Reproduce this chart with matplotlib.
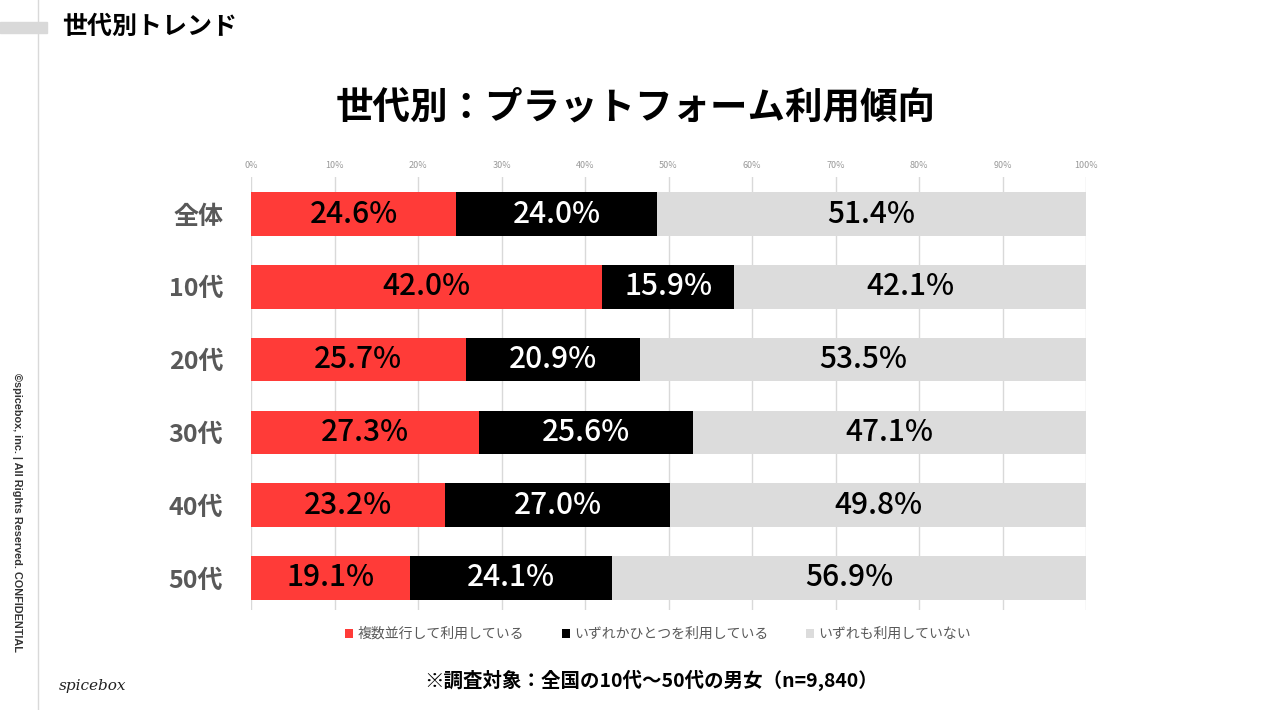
import matplotlib.pyplot as plt
import numpy as np

plt.rcParams['font.family'] = ['Noto Sans CJK JP', 'DejaVu Sans']

# データ
categories = ["全体", "10代", "20代", "30代", "40代", "50代"]
multi = [24.6, 42.0, 25.7, 27.3, 23.2, 19.1]
single = [24.0, 15.9, 20.9, 25.6, 27.0, 24.1]
none = [51.4, 42.1, 53.5, 47.1, 49.8, 56.9]
series_names = ["複数並行して利用している", "いずれかひとつを利用している", "いずれも利用していない"]
ticks = [0, 10, 20, 30, 40, 50, 60, 70, 80, 90, 100]

colors = ["#FF3B38", "#000000", "#DCDCDC"]
text_colors = ["black", "white", "black"]

fig = plt.figure(figsize=(12.66, 7.10), dpi=100)
ax = fig.add_axes([251 / 1266, 1 - 610 / 710, 835 / 1266, 433 / 710])

y = np.arange(len(categories))
left = np.zeros(len(categories))
for vals, col, tcol, name in zip([multi, single, none], colors, text_colors, series_names):
    vals = np.array(vals)
    ax.barh(y, vals, left=left, height=0.6, color=col, label=name, zorder=2)
    for yi, l, v in zip(y, left, vals):
        ax.text(l + v / 2, yi, f"{v:.1f}%", ha="center", va="center",
                fontsize=21.5, fontweight="medium", color=tcol, zorder=3)
    left += vals

ax.set_xlim(0, 100)
ax.set_ylim(5.44, -0.51)
ax.set_xticks(ticks)
ax.set_xticklabels([f"{t}%" for t in ticks], fontsize=6.5, color="#999999")
ax.xaxis.tick_top()
ax.tick_params(axis="x", length=0, pad=5)
ax.set_yticks(y)
ax.set_yticklabels(categories, fontsize=18, fontweight="bold", color="#595959")
ax.tick_params(axis="y", length=0, pad=20)
ax.grid(axis="x", color="#D9D9D9", linewidth=1, zorder=0)
for s in ax.spines.values():
    s.set_visible(False)

leg = fig.legend(loc="center", bbox_to_anchor=(658 / 1266, 1 - 634 / 710), ncol=3,
                 frameon=False, fontsize=10, handlelength=0.6, handleheight=0.6,
                 handletextpad=0.3, columnspacing=2.7)
for t in leg.get_texts():
    t.set_color("#595959")

# タイトル・装飾
fig.text(636 / 1266, 1 - 107 / 710, "世代別：プラットフォーム利用傾向",
         ha="center", va="center", fontsize=27, fontweight="bold")
fig.text(62 / 1266, 1 - 27 / 710, "世代別トレンド", ha="left", va="center",
         fontsize=18, fontweight="bold")
fig.patches.append(plt.Rectangle((0, 1 - 33 / 710), 47 / 1266, 11 / 710,
                                 transform=fig.transFigure, color="#D9D9D9"))
fig.add_artist(plt.Line2D([38 / 1266, 38 / 1266], [0, 1], color="#D9D9D9", linewidth=1))
fig.text(651 / 1266, 1 - 680 / 710, "※調査対象：全国の10代〜50代の男女（n=9,840）",
         ha="center", va="center", fontsize=14, fontweight="bold")
fig.text(17 / 1266, 1 - 512 / 710, "©spicebox, inc. | All Rights Reserved. CONFIDENTIAL",
         ha="center", va="center", rotation=-90, fontsize=7.8, fontweight="bold",
         color="#333333", family="Liberation Sans")
fig.text(93 / 1266, 1 - 686 / 710, "spicebox", ha="center", va="center",
         fontsize=11, fontstyle="italic", family="DejaVu Serif", color="#222222")

fig.savefig("out.png", dpi=100)
